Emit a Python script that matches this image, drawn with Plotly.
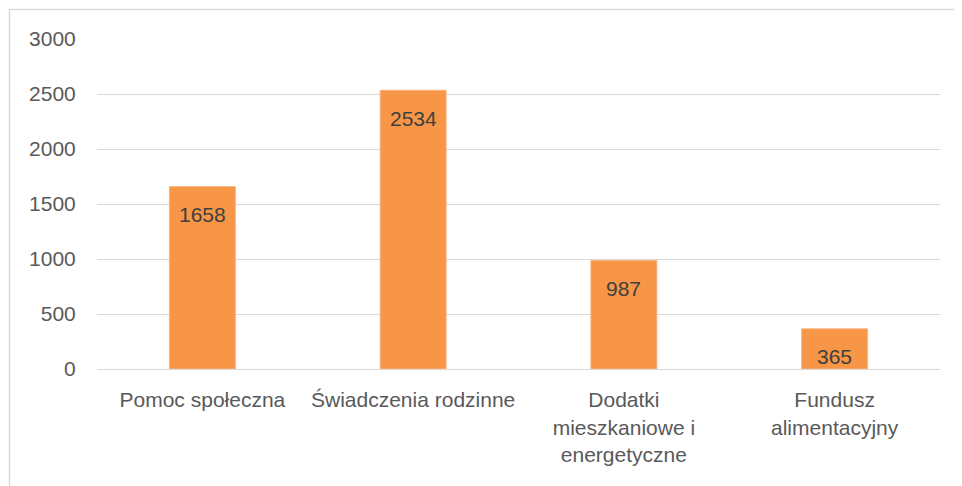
import plotly.graph_objects as go

categories = ["Pomoc społeczna", "Świadczenia rodzinne", "Dodatki<br>mieszkaniowe i<br>energetyczne", "Fundusz<br>alimentacyjny"]
values = [1658, 2534, 987, 365]
y_ticks = [0, 500, 1000, 1500, 2000, 2500, 3000]

# page body has an 8px margin, so the figure is drawn 8px smaller and offset
OFF = 8
W, H = 962 - OFF, 486 - OFF
L, R, T, B = 97 - OFF, 22, 39 - OFF, 117
pw, ph = W - L - R, H - T - B

FONT = "Liberation Sans"

fig = go.Figure()
fig.add_trace(go.Bar(
    x=categories, y=values,
    marker=dict(color="#F79646", line=dict(color="#FAB584", width=1)),
    width=0.313,
    hoverinfo="x+y",
))

for c, v in zip(categories, values):
    fig.add_annotation(x=c, y=v, text=str(v), showarrow=False, yanchor="middle",
                       yshift=-28, font=dict(family=FONT, size=21, color="#404040"))

def px_x(p):
    return (p - OFF - L) / pw

def px_y(p):
    return (H + OFF - B - p) / ph

fig.add_shape(type="rect", xref="paper", yref="paper",
              x0=px_x(9.5), x1=px_x(975), y0=px_y(500), y1=px_y(9.5),
              line=dict(color="#D9D9D9", width=1.5), fillcolor="rgba(0,0,0,0)", layer="below")

fig.update_layout(
    width=W, height=H,
    margin=dict(l=L, r=R, t=T, b=B, pad=0),
    paper_bgcolor="white", plot_bgcolor="white",
    showlegend=False,
    font=dict(family=FONT, size=21, color="#595959"),
    xaxis=dict(showgrid=False, showline=False, zeroline=False,
               ticks="outside", ticklen=12, tickcolor="rgba(0,0,0,0)",
               tickfont=dict(family=FONT, size=21, color="#595959")),
    yaxis=dict(range=[0, 3000], tickvals=y_ticks, ticktext=[str(t) for t in y_ticks],
               showgrid=True, gridcolor="#D9D9D9", gridwidth=1,
               zeroline=True, zerolinecolor="#D9D9D9", zerolinewidth=1,
               showline=False, ticks="outside", ticklen=16, tickcolor="rgba(0,0,0,0)",
               tickfont=dict(family=FONT, size=21, color="#595959")),
)

fig.write_html("out.html")
